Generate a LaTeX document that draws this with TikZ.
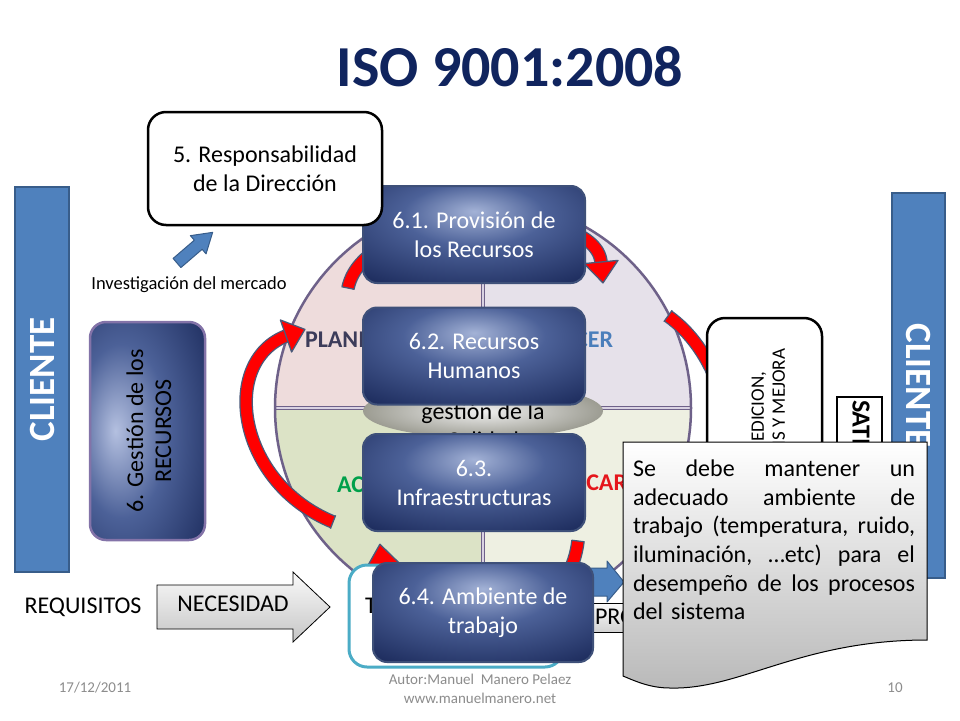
\documentclass[tikz,border=0pt]{standalone}
\usepackage{fontspec}
\setmainfont{Carlito}
\newcommand{\myfs}[2]{\fontsize{#1}{#2}\selectfont}
\newcommand{\jline}[1]{\makebox[282pt][l]{#1}}
\definecolor{cliblue}{HTML}{4F81BD}
\definecolor{cliedge}{HTML}{385D8A}
\definecolor{titlenavy}{HTML}{10245E}
\definecolor{navylight}{HTML}{A3B2D6}
\definecolor{navymid}{HTML}{4C6198}
\definecolor{navydark}{HTML}{1C2B5C}
\definecolor{navyedge}{HTML}{3E5079}
\definecolor{gestlight}{HTML}{B4C0E0}
\definecolor{gestedge}{HTML}{8373A8}
\definecolor{qpink}{HTML}{EEDCDC}
\definecolor{qlav}{HTML}{E6E1EA}
\definecolor{qgreen}{HTML}{DCE3C6}
\definecolor{qcream}{HTML}{EEF0E2}
\definecolor{qgap}{HTML}{D9D2E2}
\definecolor{pieedge}{HTML}{6E6189}
\definecolor{arcred}{HTML}{FF0000}
\definecolor{arcedge}{HTML}{4A5A7A}
\definecolor{tealedge}{HTML}{4BACC6}
\definecolor{footgray}{HTML}{8C8C8C}
\definecolor{planc}{HTML}{3C3C5A}
\definecolor{hacerc}{HTML}{4A7EBB}
\definecolor{actc}{HTML}{00A04A}
\definecolor{verc}{HTML}{E5161B}
\definecolor{ellout}{HTML}{9C9C92}
\pgfdeclareradialshading{navyshade}{\pgfpoint{0bp}{12bp}}{color(0bp)=(navylight); color(16bp)=(navymid); color(40bp)=(navydark); color(100bp)=(navydark)}
\pgfdeclareradialshading{gestshade}{\pgfpoint{-14bp}{0bp}}{color(0bp)=(gestlight); color(20bp)=(navymid); color(44bp)=(navydark); color(100bp)=(navydark)}
\begin{document}
\begin{tikzpicture}[x=1pt,y=-1pt,
  every node/.style={inner sep=0pt, outer sep=0pt},
  navybox/.style={draw=navyedge, line width=2pt, rounded corners=14pt, shading=navyshade, text=white, align=center, font=\myfs{24}{29}, minimum width=222pt, minimum height=97pt},
  clibox/.style={draw=cliedge, line width=2pt, fill=cliblue, text=white, font=\bfseries\myfs{37}{40}},
  plainbox/.style={draw=black, line width=2.5pt, fill=white, rounded corners=18pt},
  redarc/.style={draw=arcedge, line width=1.3pt, double=arcred, double distance=11pt},
  redhead/.style={fill=arcred, draw=arcedge, line width=1.3pt, line join=round},
  redcap/.style={draw=arcedge, line width=1.3pt},
  blueblock/.style={fill=cliblue, draw=cliedge, line width=1pt, line join=round},
  quadlabel/.style={font=\bfseries\myfs{24}{29}},
  foot/.style={text=footgray, font=\myfs{15}{19}},
  divider/.style={draw=pieedge, line width=1.1pt, double=qgap, double distance=1.6pt}
]
\fill[white] (0,0) rectangle (960,720);
\useasboundingbox (0,0) rectangle (960,720);

% title
\node[text=titlenavy, font=\bfseries\myfs{58}{60}] (title) at (510,67) {ISO 9001:2008};

% pie
\begin{scope}
\clip (483,408) circle[radius=208];
\fill[qpink] (270,195) rectangle (483,408);
\fill[qlav] (483,195) rectangle (696,408);
\fill[qgreen] (270,408) rectangle (483,621);
\fill[qcream] (483,408) rectangle (696,621);
\end{scope}
\draw[divider] (275,408) -- (691,408);
\draw[divider] (483,200) -- (483,616);
\draw[draw=pieedge, line width=2.5pt] (483,408) circle[radius=208];

\node[quadlabel, text=planc, anchor=west] (plan) at (305,340) {PLANIFICAR};
\node[quadlabel, text=hacerc, anchor=east] (hacer) at (613,340) {HACER};
\node[quadlabel, text=actc, anchor=west] (actuar) at (337,485) {ACTUAR};
\node[quadlabel, text=verc, anchor=east] (verif) at (627,483) {VERIFICAR};

% centre ellipse
\shade[inner color=gray!12, outer color=ellout] (483,411) ellipse[x radius=120, y radius=27];
\node[align=center, font=\myfs{24}{29}] (sgc) at (483,411) {Sistema de\\gestión de la\\Calidad};

% red cycle arrows
\draw[redarc] (333,522) .. controls (236,482) and (220,362) .. (286,336);
\draw[redcap] (335.6,515.3) -- (330.4,528.7);
\draw[redhead] (291.6,352) -- (304.9,329.4) -- (280.4,320) -- cycle;

\draw[redarc] (348,288) .. controls (365,205) and (595,200) .. (601,262);
\draw[redcap] (354.4,289.3) -- (341.6,286.7);
\draw[redhead] (618,260.4) -- (603,282.9) -- (584,263.6) -- cycle;

\draw[redarc] (668,316) .. controls (690,332) and (708,355) .. (722,395);
\draw[redcap] (663.9,321.7) -- (672.1,310.3);

\draw[redarc] (578,541) .. controls (565,650) and (395,650) .. (383,566);
\draw[redcap] (584.5,541.8) -- (571.5,540.2);
\draw[redhead] (399.8,563.6) -- (379.9,544.2) -- (366.2,568.4) -- cycle;

% resource boxes
\node[navybox] (b61) at (474,234.5) {6.1. Provisión de\\los Recursos};
\node[navybox] (b62) at (474,356) {6.2. Recursos\\Humanos};
\node[navybox] (b63) at (474,482.5) {6.3.\\Infraestructuras};

% box 5 and small arrow
\node[plainbox, minimum width=234pt, minimum height=113pt, align=center, font=\myfs{24}{29}] (b5) at (265,168.5) {5. Responsabilidad\\de la Dirección};
\begin{scope}[shift={(177,263)}, rotate=40.7]
\draw[blueblock] (0,-6) -- (28,-6) -- (28,-12) -- (47,0) -- (28,12) -- (28,6) -- (0,6) -- cycle;
\end{scope}
\node[font=\myfs{18.5}{22}] (invest) at (189,285) {Investigación del mercado};

% clients
\node[clibox, rotate=90, minimum width=385pt, minimum height=54pt] (cli1) at (42,379.5) {CLIENTE};
\node[clibox, rotate=-90, minimum width=385pt, minimum height=53pt] (cli2) at (918.5,385.5) {CLIENTE};

% gestion de los recursos
\node[draw=gestedge, line width=2.5pt, rounded corners=16pt, shading=gestshade, minimum width=115pt, minimum height=218pt] (b6) at (147.5,431) {};
\node[rotate=90, align=center, font=\myfs{24}{28}] (b6t) at (149,431) {6. Gestión de los\\RECURSOS};

% medicion
\node[plainbox, minimum width=115pt, minimum height=210pt] (med) at (764.5,423) {};
\node[rotate=90, align=center, font=\myfs{19}{21}] (medt) at (768,425) {8. MEDICION,\\ANALISIS Y MEJORA};

% satisfaccion
\node[draw=black, line width=2pt, fill=white, minimum width=45pt, minimum height=130pt] (sat) at (859,462) {};
\node[rotate=-90, anchor=west, font=\bfseries\myfs{26}{30}] (satt) at (861,400) {SATISFACCION};

% requisitos / necesidad
\node[font=\myfs{24}{29}] (req) at (83,607) {REQUISITOS};
\shade[top color=gray!4, bottom color=gray!45, draw=black, line width=0.8pt] (157,585) -- (293,585) -- (293,572) -- (330,607) -- (293,642) -- (293,629) -- (157,629) -- cycle;
\node[font=\myfs{24}{29}] (nec) at (233,604) {NECESIDAD};

% transformation area
\node[draw=tealedge, line width=3pt, fill=white, rounded corners=18pt, minimum width=214pt, minimum height=102pt] (teal) at (456,616) {};
\node[anchor=west, font=\myfs{24}{29}] (transf) at (365,604) {TRANSFORMACIÓN};
\shade[top color=gray!4, bottom color=gray!35, draw=black, line width=0.8pt] (560,603) rectangle (705,632);
\node[anchor=west, font=\myfs{24}{29}] (prod) at (595,617) {PRODUCTO};
\draw[blueblock] (585,568) -- (607,568) -- (607,561) -- (624,582) -- (607,602) -- (607,596) -- (585,596) -- cycle;
\node[navybox, minimum width=220pt, minimum height=99pt] (b64) at (483,612.5) {6.4. Ambiente de\\trabajo};

% callout
\shade[top color=white, bottom color=gray!55, draw=black, line width=1pt] (623,442) -- (927,442) -- (927,640) .. controls (800,640) and (740,690) .. (670,688) .. controls (650,688) and (635,681) .. (623,676) -- cycle;
\node[anchor=north west, text width=282pt, align=left, font=\myfs{24}{28.6}] (calltxt) at (633,460) {\jline{Se\hfill debe\hfill mantener\hfill un}\\\jline{adecuado\hfill ambiente\hfill de}\\\jline{trabajo\hfill (temperatura,\hfill ruido,}\\\jline{iluminación,\hfill …etc)\hfill para\hfill el}\\\jline{desempeño\hfill de\hfill los\hfill procesos}\\del sistema};

% footer
\node[foot] (date) at (95,688) {17/12/2011};
\node[foot] (auth) at (480,679) {Autor:Manuel\ \ Manero Pelaez};
\node[foot] (web) at (480,698) {www.manuelmanero.net};
\node[foot] (page) at (895,688) {10};
\end{tikzpicture}
\end{document}
